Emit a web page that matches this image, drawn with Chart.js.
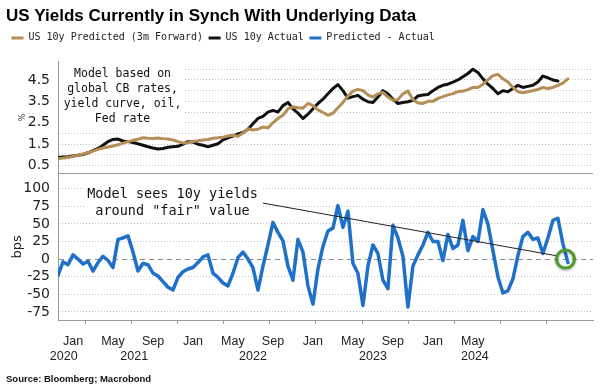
<!DOCTYPE html>
<html>
<head>
<meta charset="utf-8">
<script src="https://cdn.jsdelivr.net/npm/chart.js@4.4.1/dist/chart.umd.min.js"></script>
<style>
html,body{margin:0;padding:0;background:#fff}
</style>
</head>
<body>
<canvas id="myChart" width="604" height="389"></canvas>
<script>
// x is months since Jan 2021, one reading every ~2 weeks
var xStart = -2.34
var xStep = 0.433

// US 10y predicted (3m forward), %
var predicted = [0.82,0.85,0.88,0.93,0.98,1.04,1.10,1.18,1.26,1.32,
  1.37,1.42,1.47,1.55,1.62,1.68,1.73,1.80,1.78,1.77,
  1.79,1.76,1.74,1.70,1.62,1.56,1.57,1.63,1.66,1.70,
  1.72,1.78,1.80,1.83,1.88,1.92,1.87,2.02,2.22,2.16,
  2.20,2.30,2.26,2.50,2.70,2.85,3.15,3.25,3.20,3.18,
  3.40,3.30,3.10,2.98,2.85,2.95,3.20,3.45,3.75,3.98,
  4.06,4.00,3.80,3.70,3.85,3.92,3.70,3.55,3.58,3.85,
  3.98,3.58,3.42,3.40,3.50,3.50,3.64,3.72,3.80,3.86,
  3.95,3.98,4.05,4.15,4.15,4.30,4.50,4.70,4.76,4.55,
  4.40,4.15,3.95,3.90,3.95,4.00,4.05,4.15,4.10,4.15,
  4.25,4.35,4.55]

// US 10y actual, %
var actual = [0.88,0.90,0.92,0.95,0.98,1.02,1.10,1.20,1.30,1.45,
  1.62,1.72,1.74,1.65,1.62,1.58,1.52,1.45,1.38,1.32,
  1.28,1.30,1.36,1.38,1.40,1.50,1.62,1.60,1.50,1.45,
  1.38,1.45,1.52,1.70,1.80,1.88,1.98,2.05,2.20,2.45,
  2.70,2.80,3.00,3.08,3.00,3.30,3.45,3.15,2.95,2.70,
  2.90,3.15,3.40,3.60,3.85,4.10,4.28,4.00,3.65,3.72,
  3.78,3.60,3.48,3.45,3.70,4.00,3.85,3.60,3.40,3.45,
  3.48,3.55,3.75,3.80,3.82,4.00,4.15,4.25,4.30,4.40,
  4.50,4.65,4.80,5.00,4.85,4.55,4.30,4.10,3.85,4.00,
  3.95,4.10,4.25,4.15,4.20,4.25,4.40,4.68,4.60,4.50,
  4.45]

// predicted - actual, bps
var spread = [-23,-4,-8,6,0,-7,-3,-17,-5,4,
  -2,-12,28,30,33,10,-17,-6,-8,-20,
  -24,-32,-40,-44,-26,-18,-14,-12,-5,3,
  6,-20,-26,-34,-38,-20,2,10,0,-12,
  -44,-10,20,52,38,26,-10,-30,28,10,
  -38,-64,-14,18,40,44,76,45,68,-6,
  -20,-66,-10,20,8,-30,-42,48,30,4,
  -68,-10,6,20,38,25,25,-2,35,15,
  20,55,12,32,25,70,50,12,-25,-48,
  -45,-28,5,32,38,28,30,8,30,55,
  58,22,-5]

// tick marks (every 4 months) and the axis labels as they sit on the picture
var tickMarks = [0,4,8,12,16,20,24,28,32,36,40]
var monthLabels = ['Jan','May','Sep','Jan','May','Sep','Jan','May','Sep','Jan','May']
var monthPos = [-1.04,2.42,5.89,9.35,12.81,16.28,19.74,23.20,26.66,30.13,33.59]
var yearLabels = ['2020','2021','2022','2023','2024']
var yearPos = [-1.84,4.26,14.55,24.94,33.77]
var yieldLabels = [0.5,1.5,2.5,3.5,4.5]
var yieldGrid = [0.5,1,1.5,2,2.5,3,3.5,4,4.5,5]
var bpsTicks = [-75,-50,-25,0,25,50,75,100]

var xMin = -2.34, xMax = 44
var yMin = 0.13, yMax = 5.36
var bMin = -86.5, bMax = 121.5

var gold = '#b48d57'
var black = '#111111'
var blue = '#1f70c8'
var tickFont = {family: 'DejaVu Sans', size: 14}
var monoFont = 'DejaVu Sans Mono'

function toPoints(values){
    var pts = []
    for(var i=0;i<values.length;i++){
        pts.push({x: xStart + i*xStep, y: values[i]})
    }
    return pts
}

// label axis: months on the first line, years on the second
var xLabelTicks = []
var xLabelText = []
for(var i=0;i<monthPos.length;i++){
    xLabelTicks.push({value: monthPos[i]})
    xLabelText.push([monthLabels[i], ''])
}
for(var j=0;j<yearPos.length;j++){
    xLabelTicks.push({value: yearPos[j]})
    xLabelText.push(['', yearLabels[j]])
}

// notes, placed in data units
var topNote = {lines: ['Model based on','global CB rates,','yield curve, oil,','Fed rate'], x: 3.25, y: 4.77, lineGap: 15, boxRight: 8.66, boxBottom: 2.29}
var bottomNote = {lines: ['Model sees 10y yields','around "fair" value'], x: 7.58, y: 91.8, lineGap: 17.2}
var pointer = {x1: 15.41, y1: 79.6, x2: 40.87, y2: 4.6}
var ring = {x: 41.62, y: 0}

// empty band between legend and plot
var spacerPlugin = {
    id: 'spacer',
    beforeInit: function(chart){
        Chart.layouts.addBox(chart, {
            position: 'top', weight: 0, fullSize: true, options: {},
            width: 0, height: 0, left: 0, top: 0, right: 0, bottom: 0,
            isHorizontal: function(){ return true },
            update: function(w){ this.width = w; this.height = 8.6 },
            draw: function(){}
        })
    }
}

var notesPlugin = {
    id: 'notes',
    beforeDatasetsDraw: function(chart){
        var ctx = chart.ctx
        var xs = chart.scales.x, ys = chart.scales.y, yb = chart.scales.y2
        var area = chart.chartArea
        ctx.save()
        ctx.fillStyle = '#fff'
        var r = xs.getPixelForValue(topNote.boxRight)
        var b = ys.getPixelForValue(topNote.boxBottom)
        ctx.fillRect(area.left + 1, area.top, r - area.left - 1, b - area.top)
        ctx.font = '13.5px ' + monoFont
        var cx = xs.getPixelForValue(bottomNote.x)
        var cy = yb.getPixelForValue(bottomNote.y)
        var w = ctx.measureText(bottomNote.lines[0]).width
        ctx.fillRect(cx - w/2 - 3, cy - 10, w + 6, bottomNote.lineGap + 20)
        ctx.restore()
    },
    afterDatasetsDraw: function(chart){
        var ctx = chart.ctx
        var xs = chart.scales.x, ys = chart.scales.y, yb = chart.scales.y2
        ctx.save()
        ctx.fillStyle = '#111'
        ctx.textAlign = 'center'
        ctx.textBaseline = 'middle'
        ctx.font = '11.5px ' + monoFont
        var tx = xs.getPixelForValue(topNote.x)
        var ty = ys.getPixelForValue(topNote.y)
        for(var i=0;i<topNote.lines.length;i++){
            ctx.fillText(topNote.lines[i], tx, ty + i*topNote.lineGap)
        }
        ctx.font = '13.5px ' + monoFont
        var bx = xs.getPixelForValue(bottomNote.x)
        var by = yb.getPixelForValue(bottomNote.y)
        for(var k=0;k<bottomNote.lines.length;k++){
            ctx.fillText(bottomNote.lines[k], bx, by + k*bottomNote.lineGap)
        }
        ctx.strokeStyle = '#222'
        ctx.lineWidth = 1
        ctx.beginPath()
        ctx.moveTo(xs.getPixelForValue(pointer.x1), yb.getPixelForValue(pointer.y1))
        ctx.lineTo(xs.getPixelForValue(pointer.x2), yb.getPixelForValue(pointer.y2))
        ctx.stroke()
        ctx.shadowColor = 'rgba(0,0,0,0.35)'
        ctx.shadowBlur = 3
        ctx.shadowOffsetY = 1
        ctx.strokeStyle = '#4e9a26'
        ctx.lineWidth = 3
        ctx.beginPath()
        ctx.arc(xs.getPixelForValue(ring.x), yb.getPixelForValue(ring.y), 9, 0, Math.PI*2)
        ctx.stroke()
        ctx.restore()
    }
}

var ctx = document.getElementById('myChart').getContext('2d')
var myChart = new Chart(ctx, {
    type: 'line',
    data: {
        datasets: [{
            label: 'US 10y Predicted (3m Forward)',
            data: toPoints(predicted),
            borderColor: gold,
            borderWidth: 3,
            yAxisID: 'y'
        },{
            label: 'US 10y Actual',
            data: toPoints(actual),
            borderColor: black,
            borderWidth: 3,
            yAxisID: 'y'
        },{
            label: 'Predicted - Actual',
            data: toPoints(spread),
            borderColor: blue,
            borderWidth: 3.5,
            yAxisID: 'y2'
        }]
    },
    options: {
        responsive: false,
        animation: false,
        layout: {padding: {left: 6, right: 11, top: 0, bottom: 0}},
        elements: {point: {radius: 0}, line: {tension: 0, borderJoinStyle: 'round', borderCapStyle: 'round'}},
        plugins: {
            title: {
                display: true,
                text: 'US Yields Currently in Synch With Underlying Data',
                align: 'start',
                color: '#000',
                font: {family: 'Liberation Sans', size: 17, weight: 'bold'},
                padding: {top: 6, bottom: 1}
            },
            legend: {
                display: true,
                align: 'start',
                labels: {
                    boxWidth: 12,
                    boxHeight: 3,
                    padding: 5.5,
                    color: '#222',
                    font: {family: monoFont, size: 10},
                    generateLabels: function(chart){
                        return chart.data.datasets.map(function(ds, i){
                            return {text: ds.label, fillStyle: ds.borderColor, strokeStyle: ds.borderColor, lineWidth: 0, datasetIndex: i, hidden: false, fontColor: '#222'}
                        })
                    }
                }
            },
            subtitle: {
                display: true,
                position: 'bottom',
                align: 'start',
                text: 'Source: Bloomberg; Macrobond',
                color: '#111',
                font: {family: 'Liberation Sans', size: 9.5, weight: 'bold'},
                padding: {top: 6, bottom: 3.6}
            },
            tooltip: {enabled: false}
        },
        scales: {
            x: {
                type: 'linear',
                position: 'bottom',
                weight: 0,
                min: xMin,
                max: xMax,
                afterBuildTicks: function(s){ s.ticks = tickMarks.map(function(v){ return {value: v} }) },
                afterFit: function(s){ s.height = 4 },
                ticks: {display: false},
                grid: {drawOnChartArea: false, drawTicks: true, tickLength: 4, tickColor: '#999'},
                border: {color: '#999'}
            },
            xl: {
                type: 'linear',
                position: 'bottom',
                weight: 1,
                min: xMin,
                max: xMax,
                afterBuildTicks: function(s){ s.ticks = xLabelTicks.slice() },
                afterFit: function(s){ s.height = 44 },
                ticks: {
                    autoSkip: false,
                    maxRotation: 0,
                    minRotation: 0,
                    padding: 2,
                    color: '#222',
                    font: {family: 'Liberation Sans', size: 12.5},
                    callback: function(v, i){ return xLabelText[i] }
                },
                grid: {display: false},
                border: {display: false}
            },
            y: {
                type: 'linear',
                position: 'left',
                stack: 'panels',
                stackWeight: 114,
                weight: 1,
                min: yMin,
                max: yMax,
                afterBuildTicks: function(s){
                    s.ticks = [{value: yMin}].concat(yieldGrid.map(function(v){ return {value: v} }))
                },
                afterFit: function(s){ s.width = 52 },
                ticks: {
                    autoSkip: false,
                    padding: 8,
                    color: '#222',
                    font: tickFont,
                    callback: function(v){ return yieldLabels.indexOf(v) >= 0 ? v.toFixed(1) : '' }
                },
                grid: {
                    drawTicks: false,
                    color: function(c){ return c.index === 0 ? '#999' : '#c4c4c4' }
                },
                border: {
                    color: '#999',
                    dash: function(c){ return (c.tick && c.index !== 0) ? [1, 2] : [] }
                },
                title: {display: true, text: '%', color: '#333', font: {family: 'DejaVu Sans', size: 8}, padding: {top: 12, bottom: 0}}
            },
            y2: {
                type: 'linear',
                position: 'left',
                stack: 'panels',
                stackWeight: 149,
                weight: 0,
                min: bMin,
                max: bMax,
                afterBuildTicks: function(s){ s.ticks = bpsTicks.map(function(v){ return {value: v} }) },
                afterFit: function(s){ s.width = 52 },
                ticks: {
                    autoSkip: false,
                    padding: 8,
                    color: '#222',
                    font: tickFont,
                    callback: function(v){ return String(v) }
                },
                grid: {
                    drawTicks: false,
                    color: function(c){ return (c.tick && c.tick.value === 0) ? '#8c8c8c' : '#c4c4c4' }
                },
                border: {
                    color: '#999',
                    dash: function(c){
                        if(!c.tick) return []
                        return c.tick.value === 0 ? [5, 4] : [1, 2]
                    }
                },
                title: {display: true, text: 'bps', color: '#222', font: {family: 'DejaVu Sans', size: 13}, padding: {top: 4, bottom: 0}}
            }
        }
    },
    plugins: [spacerPlugin, notesPlugin]
})
</script>
</body>
</html>
